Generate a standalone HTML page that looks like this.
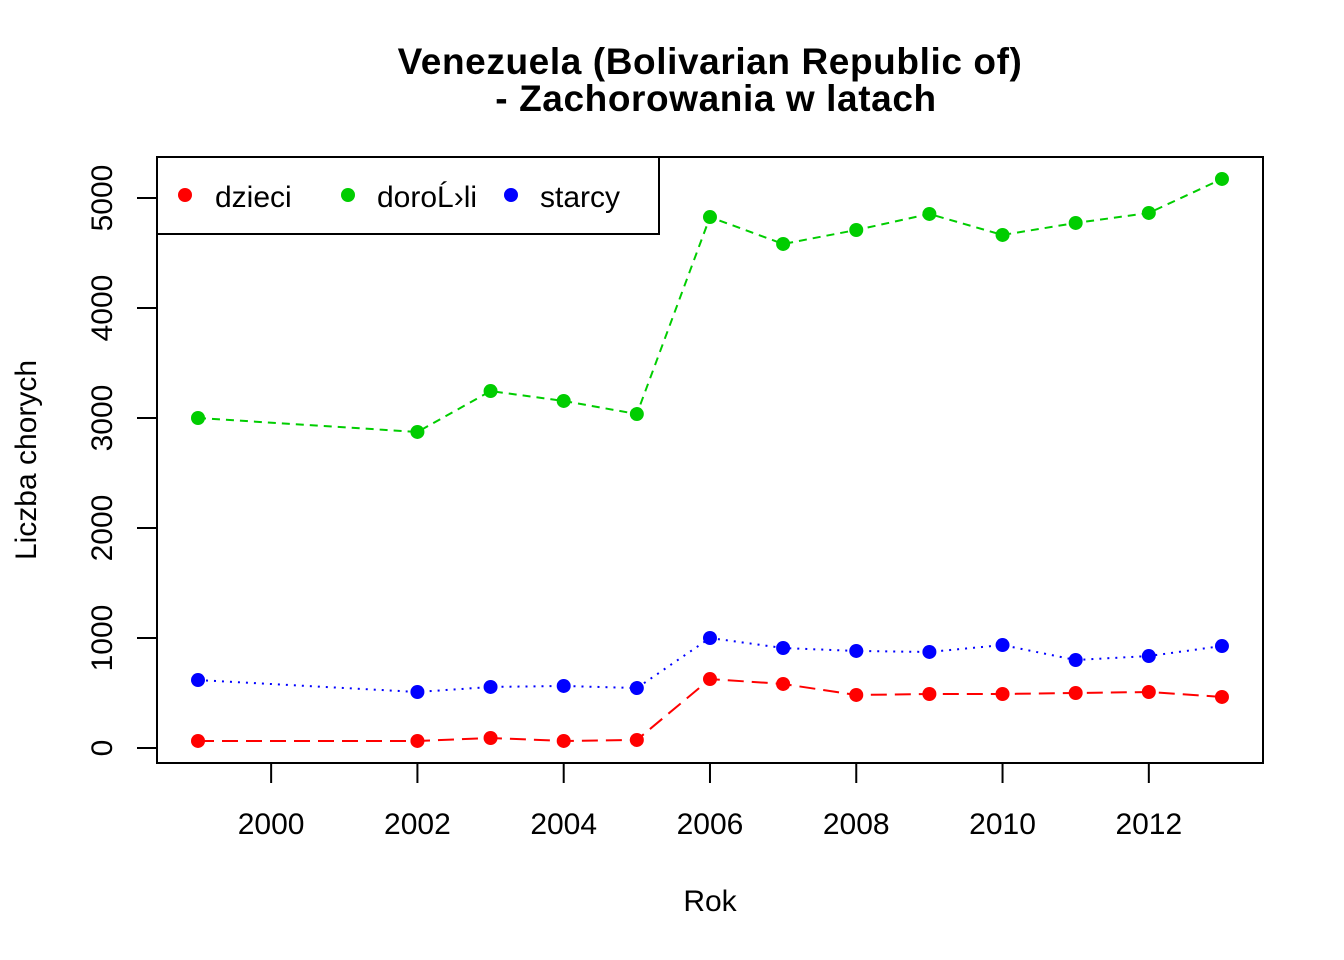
<!DOCTYPE html>
<html><head><meta charset="utf-8"><style>body{margin:0;background:#fff}svg{display:block}text{font-family:"Liberation Sans",Arial,sans-serif}</style></head>
<body>
<svg id="c" width="1344" height="960">
<text x="710" y="74" text-anchor="middle" font-size="37" font-weight="bold" letter-spacing="0.6">Venezuela (Bolivarian Republic of)</text>
<text x="716" y="111" text-anchor="middle" font-size="37" font-weight="bold" letter-spacing="0.6">- Zachorowania w latach</text>
<rect x="157" y="157" width="1106" height="606" fill="none" stroke="#000" stroke-width="2"/>
<text x="710" y="911" text-anchor="middle" font-size="30">Rok</text>
<text transform="translate(36,460) rotate(-90)" text-anchor="middle" font-size="30">Liczba chorych</text>
<g id="axes"></g><g id="series"></g>
<g>
<rect x="157" y="157" width="502" height="77" fill="#fff" stroke="#000" stroke-width="2"/>
<circle cx="185" cy="195" r="7" fill="#ff0000"/>
<text x="215" y="207" font-size="30">dzieci</text>
<circle cx="348" cy="195" r="7" fill="#00cd00"/>
<text x="377" y="207" font-size="30">doroĹ›li</text>
<circle cx="511" cy="195" r="7" fill="#0000ff"/>
<text x="540" y="207" font-size="30">starcy</text>
</g>
</svg>
<script>
const years=[1999,2002,2003,2004,2005,2006,2007,2008,2009,2010,2011,2012,2013];
const dzieci=[64,64,91,64,73,627,582,482,491,491,500,509,464];
const dorosli=[3000,2873,3245,3155,3036,4827,4582,4709,4855,4664,4773,4864,5173];
const starcy=[618,509,555,564,545,1000,909,882,873,936,800,836,927];
const xTicks=[2000,2002,2004,2006,2008,2010,2012];
const yTicks=[0,1000,2000,3000,4000,5000];
const NS='http://www.w3.org/2000/svg';
function X(v){return 198+(v-1999)*73.14;}
function Y(v){return 748-v*0.11;}
function mk(t,a,p){const e=document.createElementNS(NS,t);for(const k in a)e.setAttribute(k,a[k]);p.appendChild(e);return e;}
const ax=document.getElementById('axes');
xTicks.forEach(t=>{
 const l=mk('line',{x1:X(t),x2:X(t),y1:763,y2:783,stroke:'#000','stroke-width':2},ax);
 
 
 const tx=mk('text',{x:X(t),y:834,'text-anchor':'middle','font-size':30},ax);tx.textContent=t;
 
 
});
yTicks.forEach(t=>{
 const l=mk('line',{x1:137,x2:157,y1:Y(t),y2:Y(t),stroke:'#000','stroke-width':2},ax);
 
 
 const tx=mk('text',{transform:`translate(112,${Y(t)}) rotate(-90)`,'text-anchor':'middle','font-size':30},ax);tx.textContent=t;
 
 
});
const sg=document.getElementById('series');
[[dzieci,'#ff0000','16,8','dzieci'],[dorosli,'#00cd00','8,6','dorosli'],[starcy,'#0000ff','2,6','starcy']].forEach(([d,c,da,n])=>{
 const pl=mk('polyline',{points:d.map((v,i)=>X(years[i])+','+Y(v)).join(' '),fill:'none',stroke:c,'stroke-width':2,'stroke-dasharray':da},sg);
 
 
 d.forEach((v,i)=>{const p=mk('circle',{cx:X(years[i]),cy:Y(v),r:7,fill:c},sg);
  
  });
});
</script>
</body></html>
